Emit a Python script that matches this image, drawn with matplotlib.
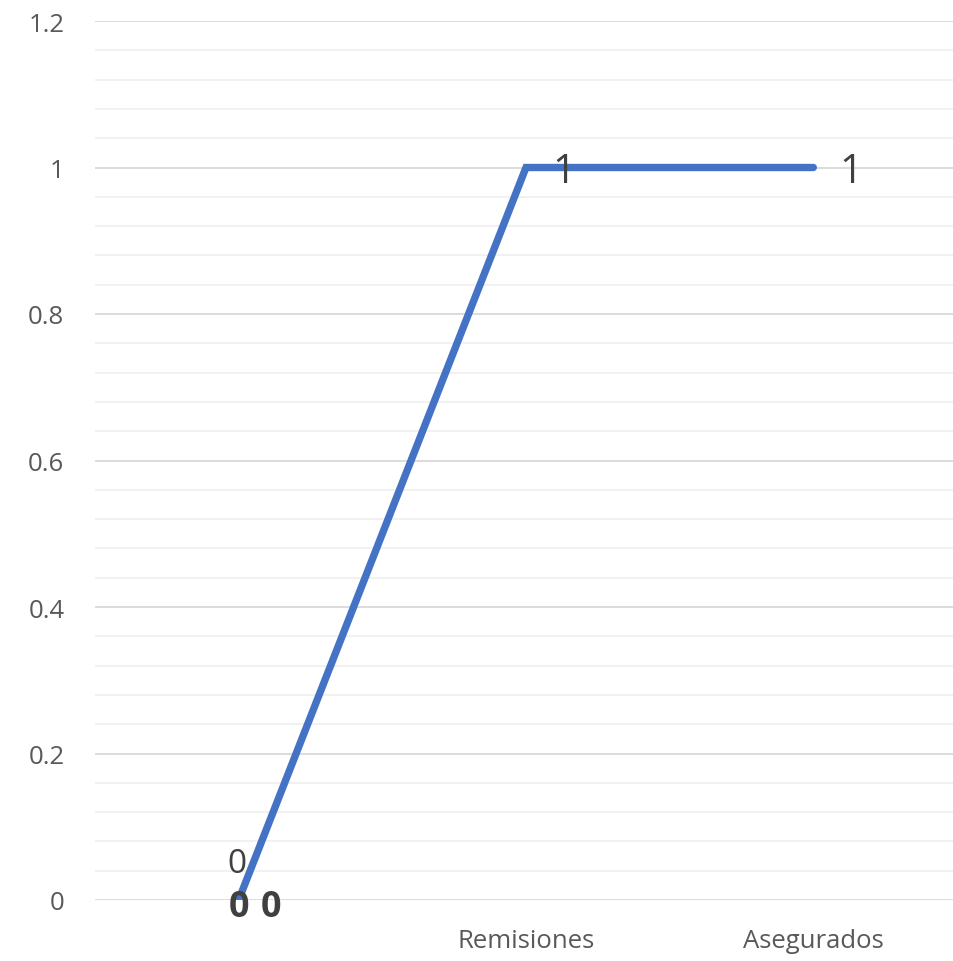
import matplotlib.pyplot as plt
from matplotlib.ticker import MultipleLocator

categories = ["", "Remisiones", "Asegurados"]
values = [0, 1, 1]
y_ticks = [0, 0.2, 0.4, 0.6, 0.8, 1, 1.2]
y_tick_labels = ["0", "0.2", "0.4", "0.6", "0.8", "1", "1.2"]

plt.rcParams['font.family'] = ['Open Sans', 'DejaVu Sans']

fig = plt.figure(figsize=(9.54, 9.62), dpi=100, facecolor="white")
ax = fig.add_axes([95 / 954, 61 / 962, 862 / 954, 879 / 962])

x = list(range(len(categories)))
ax.plot(x, values, color="#4472C4", lw=5.3, solid_capstyle="round",
        solid_joinstyle="miter", zorder=3)

ax.set_xlim(-0.5, len(categories) - 0.5)
ax.set_ylim(0, 1.2)
ax.set_yticks(y_ticks)
ax.set_yticklabels(y_tick_labels)
ax.yaxis.set_minor_locator(MultipleLocator(0.04))
ax.set_xticks(x)
ax.set_xticklabels(categories)

ax.grid(axis="y", which="major", color="#D9D9D9", lw=1.3, zorder=0)
ax.grid(axis="y", which="minor", color="#F0F0F0", lw=1.3, zorder=0)
for s in ax.spines.values():
    s.set_visible(False)
ax.tick_params(axis="both", which="both", length=0, colors="#595959", labelsize=18.5)
ax.tick_params(axis="y", pad=22)
ax.tick_params(axis="x", pad=20)

# data labels
for xi, v in zip(x[1:], values[1:]):
    ax.annotate(f"{v:g}", (xi, v), xytext=(19, -3), textcoords="offset points",
                ha="left", va="center", fontsize=29, color="#404040", zorder=4)

ax.annotate(f"{values[0]:g}", (x[0], values[0]), xytext=(-1, 26), textcoords="offset points",
            ha="center", va="center", fontsize=24, color="#404040", zorder=4)
ax.annotate(f"{values[0]:g}", (x[0], values[0]), xytext=(0, -5), textcoords="offset points",
            ha="center", va="center", fontsize=26, fontweight="bold", color="#404040", zorder=4)
ax.annotate(f"{values[0]:g}", (x[0], values[0]), xytext=(23, -5), textcoords="offset points",
            ha="center", va="center", fontsize=26, fontweight="bold", color="#404040", zorder=4)

fig.savefig("out.png", dpi=100, facecolor="white")
